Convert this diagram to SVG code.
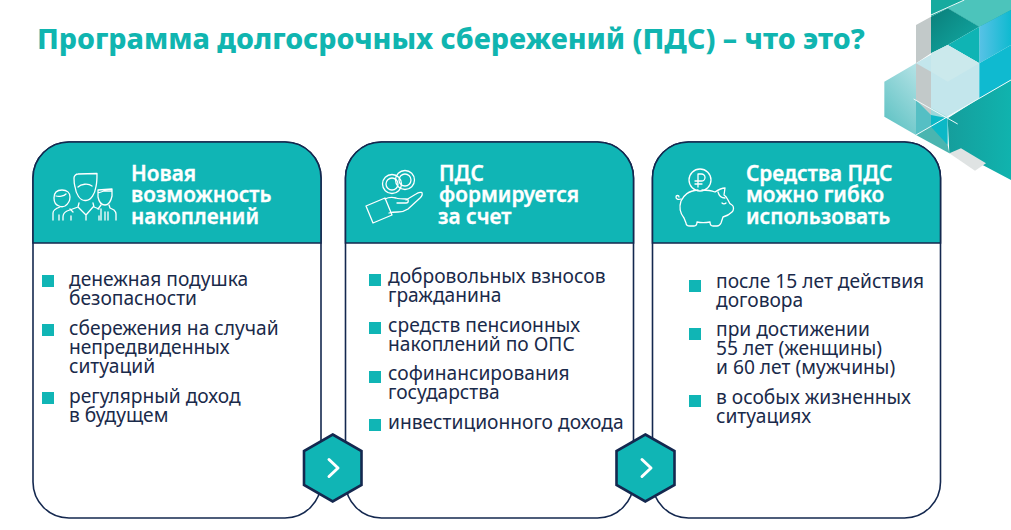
<svg xmlns="http://www.w3.org/2000/svg" width="1011" height="530" viewBox="0 0 1011 530">
<defs>
<linearGradient id="g1" x1="0" y1="0" x2="1" y2="1"><stop offset="0" stop-color="#0a7f7a"/><stop offset="1" stop-color="#12aca6"/></linearGradient>
<linearGradient id="g2" x1="0" y1="1" x2="1" y2="0"><stop offset="0" stop-color="#55bfc0"/><stop offset="1" stop-color="#d5eef2"/></linearGradient>
<linearGradient id="g3" x1="0" y1="0" x2="1" y2="0"><stop offset="0" stop-color="#58c2e6"/><stop offset="1" stop-color="#0fbad0"/></linearGradient>
<linearGradient id="g4" x1="0" y1="0" x2="1" y2="0"><stop offset="0" stop-color="#159e9c"/><stop offset="1" stop-color="#10b3ae"/></linearGradient>
</defs>
<style>
.t{font-family:"Noto Sans","Open Sans",sans-serif}
.title{font-size:28.650px;font-weight:800;fill:#10b5b0}
.head{font-size:20.800px;font-weight:600;fill:#fff;stroke:#fff;stroke-width:.35}
.body{font-size:19.200px;fill:#1a2a4a}
.card{fill:#fff;stroke:#14284f;stroke-width:1.6}
.hd{fill:#10b5b5;stroke:#14284f;stroke-width:1.6}
.bul{fill:#10b5b5}
.ic{fill:none;stroke:#fff;stroke-width:1.3;stroke-linecap:round;stroke-linejoin:round}
.hex{fill:#10b5b5;stroke:#14284f;stroke-width:2.6}
.chev{fill:none;stroke:#fff;stroke-width:3;stroke-linecap:round;stroke-linejoin:round}
</style>
<rect width="1011" height="530" fill="#fff"/>
<g id="decor" transform="translate(871 0) scale(.33333)">
<polygon points="180,0 420,0 420,60 325,80 230,25 180,50" fill="#16ab9f"/>
<polygon points="280,0 420,0 420,30 325,80 230,25" fill="#4cc4bb"/>
<polygon points="135,75 180,50 180,160 135,190" fill="#c2c9c9"/>
<polygon points="180,50 230,25 325,80 230,135 180,160" fill="url(#g1)"/>
<polygon points="325,80 420,30 420,135 325,190" fill="url(#g3)"/>
<polygon points="230,135 325,80 325,190" fill="#0fb4b4"/>
<polygon points="40,245 135,190 230,245 230,355 135,405 40,350" fill="url(#g2)"/>
<polygon points="135,190 230,135 325,190 325,295 230,350 135,300" fill="#c3e6ec"/>
<polygon points="180,160 230,135 325,190 230,245 180,215" fill="#cbe9ec"/>
<polygon points="135,190 180,215 180,345 135,300" fill="#c2c9c9"/>
<polygon points="325,190 420,135 420,240 325,295" fill="#0fbad0"/>
<polygon points="135,300 180,345 180,405 135,405" fill="#55bfc4"/>
<polygon points="180,345 230,355 230,435 180,405" fill="#0bb8c6"/>
<polygon points="230,355 325,295 420,240 420,540 325,490 285,465 235,460" fill="url(#g4)"/>
<polygon points="135,405 180,380 230,435 235,460" fill="#4ab5b0"/>
<polygon points="235,460 270,445 345,490 312,512" fill="#dfe3e3"/>
<path d="M180 45L280 0M135 405L420 240M128 297L260 372" fill="none" stroke="#eefafa" stroke-width="3"/>
</g>
<text class="t title" x="37" y="49">Программа долгосрочных сбережений (ПДС) – что это?</text>
<g id="card1">
<rect class="card" x="33" y="142" width="288" height="376" rx="36"/>
<path class="hd" d="M33 243V178a36 36 0 0 1 36-36H285a36 36 0 0 1 36 36V243Z"/>
<g class="ic">
<path d="M75 187c-1-3-1-6-1-9 0-2 2-4 4-4l19-0.500c0 4 0 9-1 13-1 7-5 14-10 14h-1c-5 0-9-6-10-14Z"/>
<path d="M78 187c3-3 10-4 14-1"/>
<path d="M79 203l-1 4-11 4c-2 1-4 3-4 6v3M93 203l1 4 5 2M78 207l8 8 7-8M86 215v5M71 220v-4M99 220v-4"/>
<path d="M59 206c-3-1-5-4-5-8 0-5 3-8 8-8 5 0 8 3 8 7 0 4-2 7-5 9-2 1-4 1-6 0ZM56 196c3 1 8 0 10-2"/>
<path d="M60 207c-3 1-7 3-7 6v7M59 220v-5M70 209l3 3"/>
<path d="M98 197v-7l14-1v7c-1 5-3 9-7 9-3 0-6-3-7-8ZM98 193l6-2 8 0"/>
<path d="M101 205l-3 4M109 205l1 3 4 2c1 1 2 2 2 4v6M101 209v11M105 212v8M108 212v8"/>
</g>
<text class="t head" x="131" y="181">Новая</text>
<text class="t head" x="131" y="202">возможность</text>
<text class="t head" x="131" y="224">накоплений</text>
<rect class="bul" x="42" y="275" width="12" height="12"/>
<text class="t body" x="69" y="286">денежная подушка</text>
<text class="t body" x="69" y="305">безопасности</text>
<rect class="bul" x="42" y="324" width="12" height="12"/>
<text class="t body" x="69" y="335">сбережения на случай</text>
<text class="t body" x="69" y="354">непредвиденных</text>
<text class="t body" x="69" y="373">ситуаций</text>
<rect class="bul" x="42" y="392" width="12" height="12"/>
<text class="t body" x="69" y="403">регулярный доход</text>
<text class="t body" x="69" y="422">в будущем</text>
</g>
<g id="card2">
<rect class="card" x="345.500" y="142" width="288" height="376" rx="36"/>
<path class="hd" d="M345.500 243V178a36 36 0 0 1 36-36H597.500a36 36 0 0 1 36 36V243Z"/>
<g class="ic">
<circle cx="392" cy="184" r="9.500"/><circle cx="392" cy="184" r="6"/>
<circle cx="405" cy="180" r="9.500"/><circle cx="405" cy="180" r="6"/>
<path d="M366 206l19-8 7 17-19 8ZM385 199c4-2 7-2 11-1 3 1 7 1 10 1 3 0 3 4 0 4-3 0-6 0-9 0"/>
<path d="M406 200l10-6c3-2 6-2 6-1 1 2 0 3-2 5l-12 11c-3 2-6 3-10 3-3 0-6 0-9 1"/>
</g>
<text class="t head" x="439" y="181">ПДС</text>
<text class="t head" x="439" y="202">формируется</text>
<text class="t head" x="438" y="224">за счет</text>
<rect class="bul" x="369" y="274" width="12" height="12"/>
<text class="t body" x="388" y="283">добровольных взносов</text>
<text class="t body" x="388" y="302">гражданина</text>
<rect class="bul" x="369" y="322" width="12" height="12"/>
<text class="t body" x="388" y="332">средств пенсионных</text>
<text class="t body" x="388" y="351">накоплений по ОПС</text>
<rect class="bul" x="369" y="371" width="12" height="12"/>
<text class="t body" x="388" y="380">софинансирования</text>
<text class="t body" x="388" y="399">государства</text>
<rect class="bul" x="369" y="419" width="12" height="12"/>
<text class="t body" x="388" y="429">инвестиционного дохода</text>
</g>
<g id="card3">
<rect class="card" x="652.500" y="142" width="288" height="376" rx="36"/>
<path class="hd" d="M652.500 243V178a36 36 0 0 1 36-36H904.500a36 36 0 0 1 36 36V243Z"/>
<g class="ic">
<circle cx="700" cy="180" r="11"/>
<path d="M698 187v-13h3.500a3.500 3.500 0 0 1 0 7H695M695 184h7"/>
<g transform="translate(6 1)">
<path d="M692 189c-10 1-14 5-17 11-2 6-1 12 3 17l2 5c0 2 2 3 4 3h4c2 0 3-1 3-4 4 1 8 1 13 0 0 3 1 4 3 4h4c2 0 3-1 4-3l2-6c4-1 7-3 9-5 2-2 2-6 0-7-2-1-3-2-4-5-1-2-2-4-4-5l1-7c-4 0-7 2-10 4-5-2-8-2-13-2"/>
<path d="M712 191c1 4 4 6 7 6M716 202c1 1 3 1 4 0M675 198c-3 1-5 0-5-2 0-2 3-2 3 0"/>
</g>
</g>
<text class="t head" x="746" y="181">Средства ПДС</text>
<text class="t head" x="746" y="202">можно гибко</text>
<text class="t head" x="746" y="224">использовать</text>
<rect class="bul" x="689" y="280" width="12" height="12"/>
<text class="t body" x="716" y="288">после 15 лет действия</text>
<text class="t body" x="716" y="307">договора</text>
<rect class="bul" x="689" y="328" width="12" height="12"/>
<text class="t body" x="716" y="336">при достижении</text>
<text class="t body" x="716" y="355">55 лет (женщины)</text>
<text class="t body" x="716" y="374">и 60 лет (мужчины)</text>
<rect class="bul" x="689" y="395" width="12" height="12"/>
<text class="t body" x="716" y="404">в особых жизненных</text>
<text class="t body" x="716" y="423">ситуациях</text>
</g>
<g id="next1">
<polygon class="hex" points="332.700,434.500 361.500,451 361.500,485 332.700,501.500 304,485 304,451"/>
<path class="chev" d="M329 459.500L338 468L329 476.500"/>
</g>
<g id="next2">
<polygon class="hex" points="645.300,434.500 674.500,451 674.500,485 645.300,501.500 616.500,485 616.500,451"/>
<path class="chev" d="M642 459.500L651 468L642 476.500"/>
</g>
</svg>
